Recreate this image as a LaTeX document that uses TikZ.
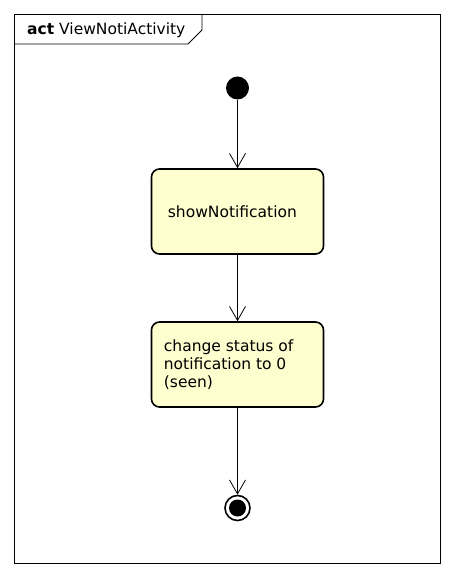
\documentclass[tikz,border=0pt]{standalone}
\usepackage{fontspec}
\setmainfont{DejaVu Sans}
\usetikzlibrary{arrows.meta,positioning}
\definecolor{actFill}{HTML}{FEFECE}
\begin{document}
\begin{tikzpicture}[
  x=1pt, y=-1pt,
  font=\fontsize{15.5}{18}\selectfont,
  act/.style={draw, line width=1.6pt, rounded corners=8pt, fill=actFill,
    minimum width=172pt, minimum height=85pt, inner sep=0pt},
  flow/.style={-{Straight Barb[length=14pt,width=16pt]}, line width=0.8pt}
]
\useasboundingbox (0,0) rectangle (453,577);
% frame
\draw[line width=0.8pt] (14,14) rectangle (440,563);
\draw[line width=0.8pt] (14,44) -- (188,44) -- (202,30) -- (202,14);
\node[anchor=west, inner sep=0pt] (title) at (27,30) {\textbf{act} ViewNotiActivity};
% start / actions / end
\node[circle, fill=black, minimum size=23pt, inner sep=0pt] (start) at (237.5,88) {};
\node[act] (show) at (237.5,211.5) {};
\node[anchor=west, inner sep=0pt] at (show.west) [xshift=17pt] {showNotification};
\node[act] (seen) at (237.5,364.5) {};
\node[anchor=west, align=left, inner sep=0pt] at (seen.west) [xshift=13pt] {change status of\\notification to 0\\(seen)};
\node[circle, draw, line width=1.6pt, minimum size=25pt, inner sep=0pt] (stop) at (237.5,508) {};
\node[circle, fill=black, minimum size=17pt, inner sep=0pt] at (stop) {};
% connectors
\draw[flow] (start) -- (show);
\draw[flow] (show) -- (seen);
\draw[flow] (seen) -- (stop);
\end{tikzpicture}
\end{document}
